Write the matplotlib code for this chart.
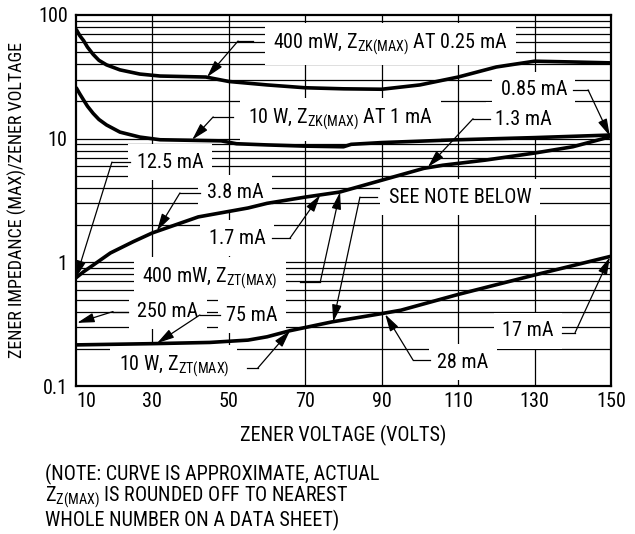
import matplotlib
matplotlib.use("Agg")
import matplotlib.pyplot as plt
from matplotlib import font_manager

# values: Zz(max)/Vz against zener voltage
zk_400mw_v = [10, 11, 12, 13, 14.5, 16, 18, 21.5, 26.7, 32, 44, 50, 60, 70, 80, 90, 100, 110, 120, 130, 140, 150]
zk_400mw_z = [77, 68, 62, 55, 48, 43, 39.5, 36, 33.3, 32.1, 31.5, 29, 27.2, 25.8, 25.3, 25.1, 27.2, 31.5, 38, 42.3, 41.7, 41]

zk_10w_v = [10, 11, 12, 13, 14.5, 16, 18, 21.5, 26.7, 32, 40, 48, 52, 60, 70, 80, 82, 90, 110, 130, 150]
zk_10w_z = [26, 23, 20.5, 18.3, 16, 14.3, 12.9, 11.3, 10.3, 9.8, 9.7, 9.6, 9.1, 8.9, 8.7, 8.6, 9.0, 9.3, 9.8, 10.2, 10.7]

zt_400mw_v = [10, 12, 14.5, 19, 25, 30, 42, 55, 60, 70, 79, 95, 101, 106, 117, 130, 140, 150]
zt_400mw_z = [0.75, 0.84, 0.95, 1.19, 1.47, 1.73, 2.33, 2.75, 3.0, 3.37, 3.7, 5.1, 5.75, 6.1, 6.7, 7.65, 8.6, 10.4]

zt_10w_v = [10, 30, 45, 55, 60, 66, 77, 90, 95, 110, 130, 150]
zt_10w_z = [0.215, 0.22, 0.225, 0.235, 0.25, 0.28, 0.33, 0.385, 0.41, 0.55, 0.79, 1.12]

x_ticks = [10, 30, 50, 70, 90, 110, 130, 150]
y_ticks = [0.1, 1, 10, 100]
y_ticklabels = ["0.1", "1", "10", "100"]

# pick a narrow sans if one is there
names = {f.name for f in font_manager.fontManager.ttflist}
font = "Liberation Sans"
for fam in ["Liberation Sans Narrow", "Roboto Condensed", "Liberation Sans"]:
    if fam in names:
        font = fam
        break

plt.rcParams["font.family"] = [font, "DejaVu Sans"]
plt.rcParams["mathtext.fontset"] = "custom"
plt.rcParams["mathtext.rm"] = font
plt.rcParams["mathtext.it"] = font
plt.rcParams["mathtext.bf"] = font
FS = 14.5

fig = plt.figure(figsize=(6.35, 5.34), dpi=100)
ax = fig.add_axes([76 / 635, 1 - 386 / 534, 535 / 635, 371 / 534])

ax.set_yscale("log")
ax.set_xlim(10, 150)
ax.set_ylim(0.1, 100)

# grid: every log step horizontally, every 20 V vertically
for dec in [0.1, 1, 10]:
    for m in range(1, 10):
        if dec * m > 0.1:
            ax.axhline(dec * m, color="k", lw=0.9, zorder=1)
for v in x_ticks[1:-1]:
    ax.axvline(v, color="k", lw=0.9, zorder=1)

# curves
for xs, ys in [(zk_400mw_v, zk_400mw_z), (zk_10w_v, zk_10w_z),
               (zt_400mw_v, zt_400mw_z), (zt_10w_v, zt_10w_z)]:
    ax.plot(xs, ys, color="k", lw=2.6, zorder=5, solid_capstyle="butt", solid_joinstyle="round")

box = dict(facecolor="white", edgecolor="none", pad=6)


def label(txt, xy, ha="center"):
    ax.text(xy[0], xy[1], txt, fontsize=FS, ha=ha, va="center", bbox=box, zorder=3)


def leader(knee0, knee1, tip):
    ax.plot([knee0[0], knee1[0]], [knee0[1], knee1[1]], color="k", lw=0.9, zorder=6)
    ax.annotate("", xy=tip, xytext=knee1, zorder=6,
                arrowprops=dict(arrowstyle="-|>,head_length=0.8,head_width=0.22", color="k", lw=0.9,
                                shrinkA=0, shrinkB=0, mutation_scale=13))


label(r"400 mW, Z$_{\mathrm{ZK(MAX)}}$ AT 0.25 mA", (92.2, 58))
leader((56.3, 61.6), (52.4, 61.6), (44.3, 31.5))

label(r"10 W, Z$_{\mathrm{ZK(MAX)}}$ AT 1 mA", (79.1, 14.3))
leader((51.1, 15.0), (45.9, 15.0), (40.4, 9.8))

label("12.5 mA", (34.6, 6.47))
leader((24.1, 6.47), (19.4, 6.47), (10, 0.75))

label("3.8 mA", (51.6, 3.64))
leader((42.4, 3.64), (37.2, 3.64), (31.2, 1.8))

label("1.7 mA", (52.1, 1.57))
leader((61.3, 1.57), (66.0, 1.57), (73.9, 3.5))

label("SEE NOTE BELOW", (110.5, 3.37))
leader((88.8, 3.37), (84.3, 3.37), (77.3, 0.33))

label(r"400 mW, Z$_{\mathrm{ZT(MAX)}}$", (45.1, 0.75))
leader((68.6, 0.69), (73.9, 0.69), (79.1, 3.7))

label("250 mA", (34.1, 0.404))
leader((23.6, 0.40), (19.7, 0.40), (10.3, 0.324))

label("75 mA", (56.1, 0.375))
leader((47.7, 0.375), (42.4, 0.375), (31.2, 0.222))

label(r"10 W, Z$_{\mathrm{ZT(MAX)}}$", (35.6, 0.145))
leader((54.7, 0.14), (57.6, 0.14), (66.0, 0.28))

label("0.85 mA", (129.8, 24.8))
leader((140.1, 24.8), (144.0, 24.8), (149.7, 10.5))

label("1.3 mA", (127.0, 14.2))
leader((118.3, 14.5), (113.9, 14.5), (102.1, 5.9))

label("28 mA", (111.3, 0.156))
leader((102.6, 0.162), (98.2, 0.162), (90.9, 0.38))

label("17 mA", (128.3, 0.279))
leader((137.2, 0.27), (140.6, 0.27), (149.7, 1.1))

# axes and ticks
for s in ax.spines.values():
    s.set_linewidth(1.6)
    s.set_zorder(7)
ax.set_xticks(x_ticks)
ax.set_xticklabels([str(v) for v in x_ticks], fontsize=FS)
ax.get_xticklabels()[0].set_horizontalalignment("left")
ax.set_yticks(y_ticks)
ax.set_yticklabels(y_ticklabels, fontsize=FS)
ax.minorticks_off()
ax.tick_params(length=0, pad=6)
ax.tick_params(axis="x", pad=4)

fig.text(17 / 635, 1 - 200 / 534, "ZENER IMPEDANCE (MAX)/ZENER VOLTAGE",
         rotation=90, ha="center", va="center", fontsize=13)
fig.text(343 / 635, 1 - 435 / 534, "ZENER VOLTAGE (VOLTS)", ha="center", va="center", fontsize=FS)

fig.text(45 / 635, 1 - 474 / 534, "(NOTE: CURVE IS APPROXIMATE, ACTUAL", ha="left", va="center", fontsize=FS)
fig.text(45 / 635, 1 - 497 / 534, r"Z$_{\mathrm{Z(MAX)}}$ IS ROUNDED OFF TO NEAREST", ha="left", va="center", fontsize=FS)
fig.text(45 / 635, 1 - 520 / 534, "WHOLE NUMBER ON A DATA SHEET)", ha="left", va="center", fontsize=FS)

fig.savefig("out.png", dpi=100)
